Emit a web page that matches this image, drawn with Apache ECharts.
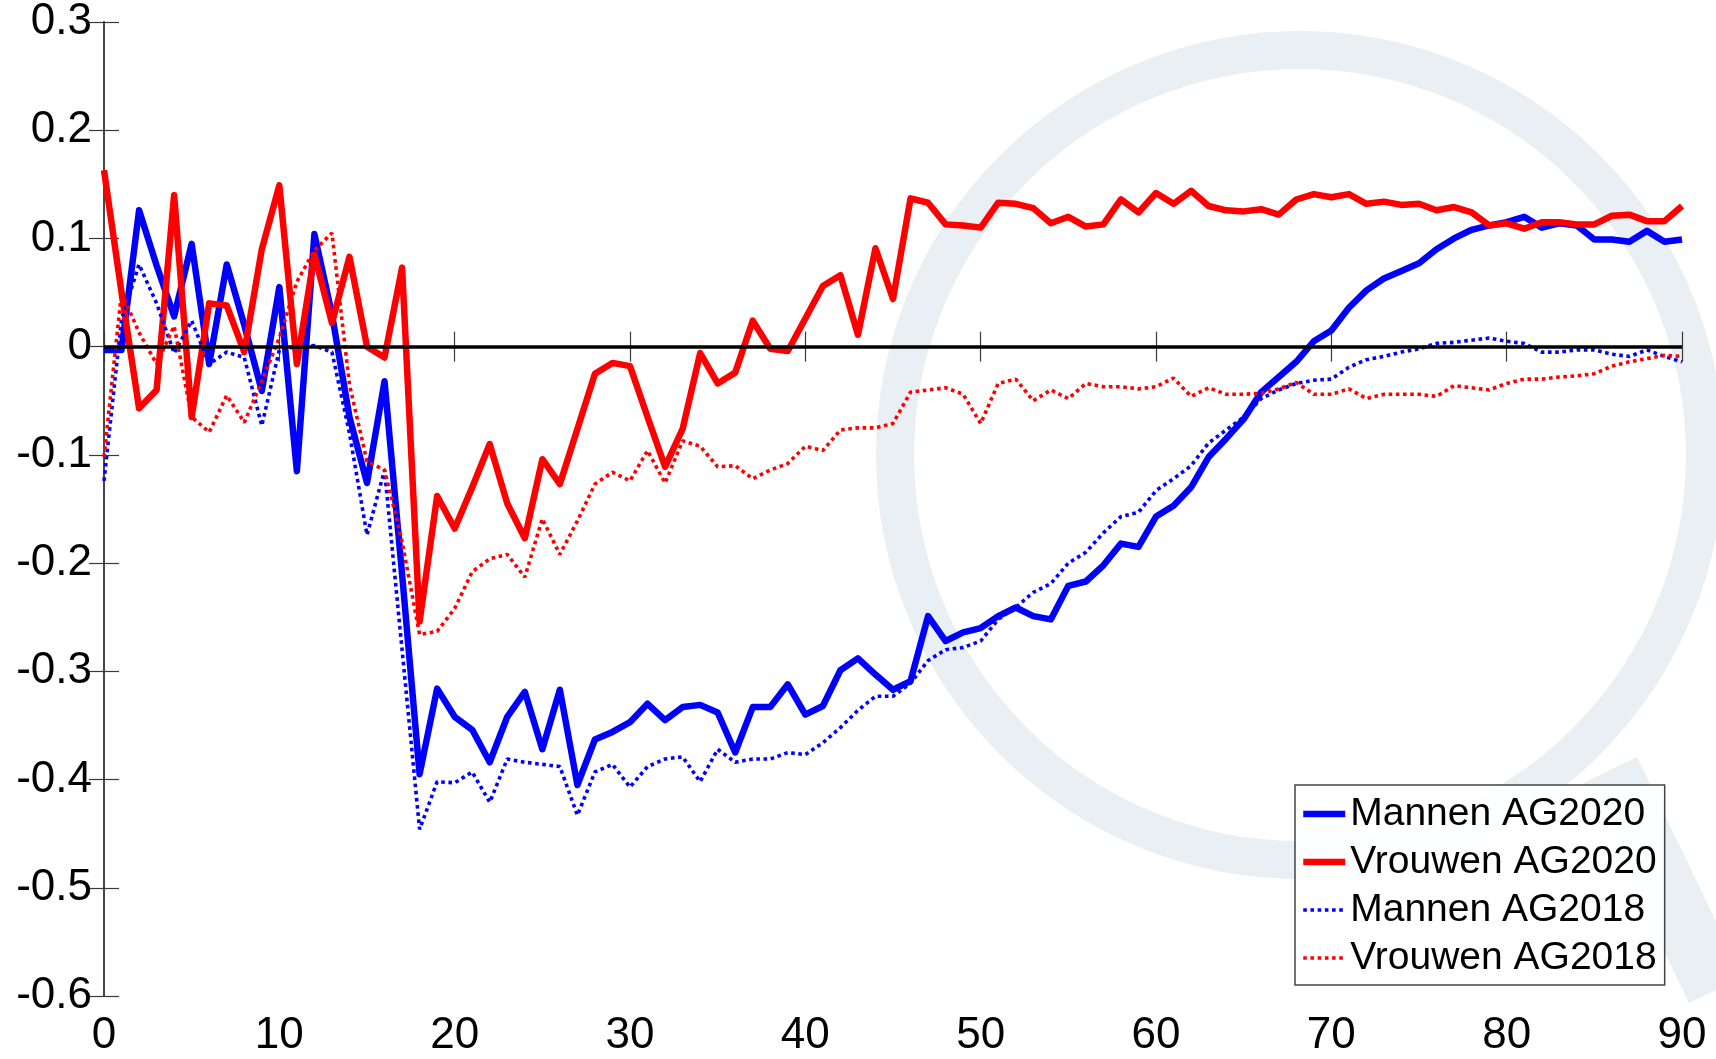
<!DOCTYPE html>
<html>
<head>
<meta charset="utf-8">
<title>Mannen en Vrouwen AG2020 / AG2018</title>
<script src="https://cdn.jsdelivr.net/npm/echarts@6/dist/echarts.min.js"></script>
<style>
  html, body { margin: 0; padding: 0; background: #ffffff; }
  #chart { width: 1716px; height: 1059px; }
</style>
</head>
<body>
<div id="chart"></div>
<script>
// Values per age (0..90), one entry per year of age
const mannenAG2020 = [
  -0.003, -0.003, 0.126, 0.075, 0.028, 0.095, -0.016, 0.076, 0.020, -0.041,
  0.055, -0.115, 0.104, 0.030, -0.065, -0.126, -0.032, -0.210, -0.395, -0.316,
  -0.342, -0.354, -0.384, -0.342, -0.319, -0.372, -0.317, -0.405, -0.363, -0.356,
  -0.347, -0.330, -0.345, -0.333, -0.331, -0.338, -0.375, -0.333, -0.333, -0.312,
  -0.340, -0.332, -0.299, -0.288, -0.303, -0.317, -0.309, -0.249, -0.272, -0.264,
  -0.260, -0.249, -0.241, -0.249, -0.252, -0.221, -0.217, -0.202, -0.182, -0.185,
  -0.157, -0.147, -0.130, -0.102, -0.085, -0.067, -0.042, -0.028, -0.014, 0.005,
  0.015, 0.036, 0.052, 0.063, 0.070, 0.077, 0.090, 0.100, 0.108, 0.112,
  0.115, 0.120, 0.110, 0.114, 0.112, 0.099, 0.099, 0.097, 0.107, 0.097,
  0.099
];
const vrouwenAG2020 = [
  0.163, 0.050, -0.057, -0.040, 0.140, -0.065, 0.040, 0.038, -0.005, 0.090,
  0.149, -0.016, 0.085, 0.022, 0.083, 0.000, -0.010, 0.073, -0.254, -0.138,
  -0.168, -0.130, -0.090, -0.145, -0.177, -0.104, -0.127, -0.076, -0.025, -0.015,
  -0.018, -0.065, -0.111, -0.076, -0.006, -0.034, -0.024, 0.024, -0.002, -0.004,
  0.026, 0.056, 0.066, 0.011, 0.091, 0.044, 0.137, 0.133, 0.113, 0.112,
  0.110, 0.133, 0.132, 0.128, 0.114, 0.120, 0.111, 0.113, 0.136, 0.124,
  0.142, 0.132, 0.144, 0.130, 0.126, 0.125, 0.127, 0.122, 0.136, 0.141,
  0.138, 0.141, 0.132, 0.134, 0.131, 0.132, 0.126, 0.129, 0.124, 0.112,
  0.114, 0.109, 0.115, 0.115, 0.113, 0.113, 0.121, 0.122, 0.116, 0.116,
  0.130
];
const mannenAG2018 = [
  -0.124, 0.025, 0.076, 0.040, -0.006, 0.024, -0.016, -0.005, -0.010, -0.073,
  -0.003, 0.000, 0.001, -0.005, -0.080, -0.174, -0.114, -0.280, -0.446, -0.402,
  -0.403, -0.393, -0.421, -0.381, -0.384, -0.386, -0.388, -0.433, -0.393, -0.386,
  -0.407, -0.388, -0.381, -0.379, -0.402, -0.372, -0.384, -0.381, -0.381, -0.375,
  -0.377, -0.366, -0.352, -0.336, -0.323, -0.323, -0.311, -0.290, -0.280, -0.278,
  -0.272, -0.252, -0.241, -0.227, -0.219, -0.200, -0.190, -0.172, -0.157, -0.153,
  -0.133, -0.122, -0.110, -0.089, -0.077, -0.065, -0.048, -0.040, -0.034, -0.031,
  -0.030, -0.019, -0.012, -0.009, -0.005, -0.002, 0.003, 0.004, 0.006, 0.008,
  0.005, 0.003, -0.005, -0.005, -0.003, -0.003, -0.007, -0.009, -0.003, -0.009,
  -0.014
];
const vrouwenAG2018 = [
  -0.102, 0.050, 0.013, -0.016, 0.019, -0.065, -0.079, -0.045, -0.070, -0.032,
  0.008, 0.060, 0.089, 0.105, -0.035, -0.106, -0.114, -0.180, -0.266, -0.263,
  -0.242, -0.208, -0.196, -0.192, -0.213, -0.159, -0.192, -0.161, -0.127, -0.116,
  -0.124, -0.096, -0.126, -0.087, -0.092, -0.111, -0.110, -0.122, -0.114, -0.108,
  -0.092, -0.096, -0.077, -0.075, -0.075, -0.071, -0.042, -0.040, -0.038, -0.044,
  -0.071, -0.034, -0.030, -0.050, -0.040, -0.048, -0.034, -0.037, -0.037, -0.039,
  -0.037, -0.029, -0.046, -0.038, -0.044, -0.044, -0.043, -0.039, -0.033, -0.044,
  -0.044, -0.039, -0.048, -0.044, -0.044, -0.044, -0.046, -0.036, -0.038, -0.040,
  -0.034, -0.030, -0.030, -0.028, -0.027, -0.025, -0.018, -0.014, -0.011, -0.008,
  -0.009
];

const seriesNames = ['Mannen AG2020', 'Vrouwen AG2020', 'Mannen AG2018', 'Vrouwen AG2018'];
const xTicks = { min: 0, max: 90, step: 10 };
const yTicks = { min: -0.6, max: 0.3, step: 0.1 };

// pair each value with its age (array index)
const toPairs = arr => arr.map((v, i) => [i, v]);

const BLUE = '#0000ff';
const RED = '#ff0000';
const FONT = '"Liberation Sans", Arial, sans-serif';

const chart = echarts.init(document.getElementById('chart'), null, { renderer: 'canvas' });

const axisLine = { show: true, lineStyle: { color: '#3a3a3a', width: 1.5 } };
const tick = { show: true, inside: true, length: 15, lineStyle: { color: '#3a3a3a', width: 1.2 } };

const SOLID_W = 6.5;
const DOT_W = 3.6;
const DOT_DASH = [3.6, 3.6];
const solidLine = color => ({ color: color, width: SOLID_W, type: 'solid', join: 'round', cap: 'butt' });
const dotLine = color => ({ color: color, width: DOT_W, type: DOT_DASH });

const lineColors = [BLUE, RED, BLUE, RED];
const isSolid = [true, true, false, false];

chart.setOption({
  backgroundColor: '#ffffff',
  animation: false,
  textStyle: { fontFamily: FONT },
  graphic: [
    // faint magnifier motif behind the plot
    {
      type: 'circle', z: -10, silent: true,
      shape: { cx: 1300, cy: 455, r: 405 },
      style: { fill: 'none', stroke: 'rgba(200,214,224,0.38)', lineWidth: 38 }
    },
    {
      type: 'line', z: -10, silent: true,
      shape: { x1: 1610, y1: 770, x2: 1716, y2: 990 },
      style: { stroke: 'rgba(200,214,224,0.38)', lineWidth: 60 }
    }
  ],
  grid: { left: 104, right: 34, top: 16, bottom: 63, containLabel: false },
  legend: {
    data: seriesNames.map((n, i) => ({
      name: n,
      lineStyle: {
        color: lineColors[i],
        width: isSolid[i] ? SOLID_W : DOT_W,
        type: isSolid[i] ? 'solid' : DOT_DASH
      }
    })),
    orient: 'vertical',
    left: 1295,
    top: 785,
    itemWidth: 42,
    itemHeight: 22,
    itemGap: 6,
    padding: [8, 8, 6, 5],
    backgroundColor: 'rgba(255,255,255,0.9)',
    borderColor: '#444',
    borderWidth: 1.5,
    borderRadius: 0,
    itemStyle: { color: 'transparent', borderColor: 'transparent', borderWidth: 0, opacity: 0 },
    textStyle: { fontFamily: FONT, fontSize: 39, color: '#000', lineHeight: 42 }
  },
  xAxis: [
    {
      type: 'value', min: xTicks.min, max: xTicks.max, interval: xTicks.step,
      axisLine: axisLine, axisTick: tick, splitLine: { show: false },
      axisLabel: { fontFamily: FONT, fontSize: 44, color: '#000', margin: 18 }
    },
    {
      type: 'value', position: 'top', min: xTicks.min, max: xTicks.max, interval: xTicks.step,
      axisLine: axisLine, axisTick: tick, splitLine: { show: false },
      axisLabel: { show: false }
    }
  ],
  yAxis: [
    {
      type: 'value', min: yTicks.min, max: yTicks.max, interval: yTicks.step,
      axisLine: axisLine, axisTick: tick, splitLine: { show: false },
      axisLabel: {
        fontFamily: FONT, fontSize: 44, color: '#000', margin: 12,
        formatter: v => (Math.abs(v) < 1e-9 ? '0' : String(Math.round(v * 10) / 10))
      }
    },
    {
      type: 'value', position: 'right', min: yTicks.min, max: yTicks.max, interval: yTicks.step,
      axisLine: axisLine, axisTick: tick, splitLine: { show: false },
      axisLabel: { show: false }
    }
  ],
  series: [
    {
      name: seriesNames[0], type: 'line', data: toPairs(mannenAG2020),
      showSymbol: false, symbol: 'none', color: BLUE, lineStyle: solidLine(BLUE), z: 3
    },
    {
      name: seriesNames[1], type: 'line', data: toPairs(vrouwenAG2020),
      showSymbol: false, symbol: 'none', color: RED, lineStyle: solidLine(RED), z: 3
    },
    {
      name: seriesNames[2], type: 'line', data: toPairs(mannenAG2018),
      showSymbol: false, symbol: 'none', color: BLUE, lineStyle: dotLine(BLUE), z: 4
    },
    {
      name: seriesNames[3], type: 'line', data: toPairs(vrouwenAG2018),
      showSymbol: false, symbol: 'none', color: RED, lineStyle: dotLine(RED), z: 4
    },
    {
      // zero reference line
      name: 'nul', type: 'line', data: [], z: 6, silent: true,
      markLine: {
        silent: true, symbol: 'none', label: { show: false },
        lineStyle: { color: '#000', width: 3.5, type: 'solid' },
        data: [{ yAxis: 0 }]
      }
    }
  ]
});
</script>
</body>
</html>
